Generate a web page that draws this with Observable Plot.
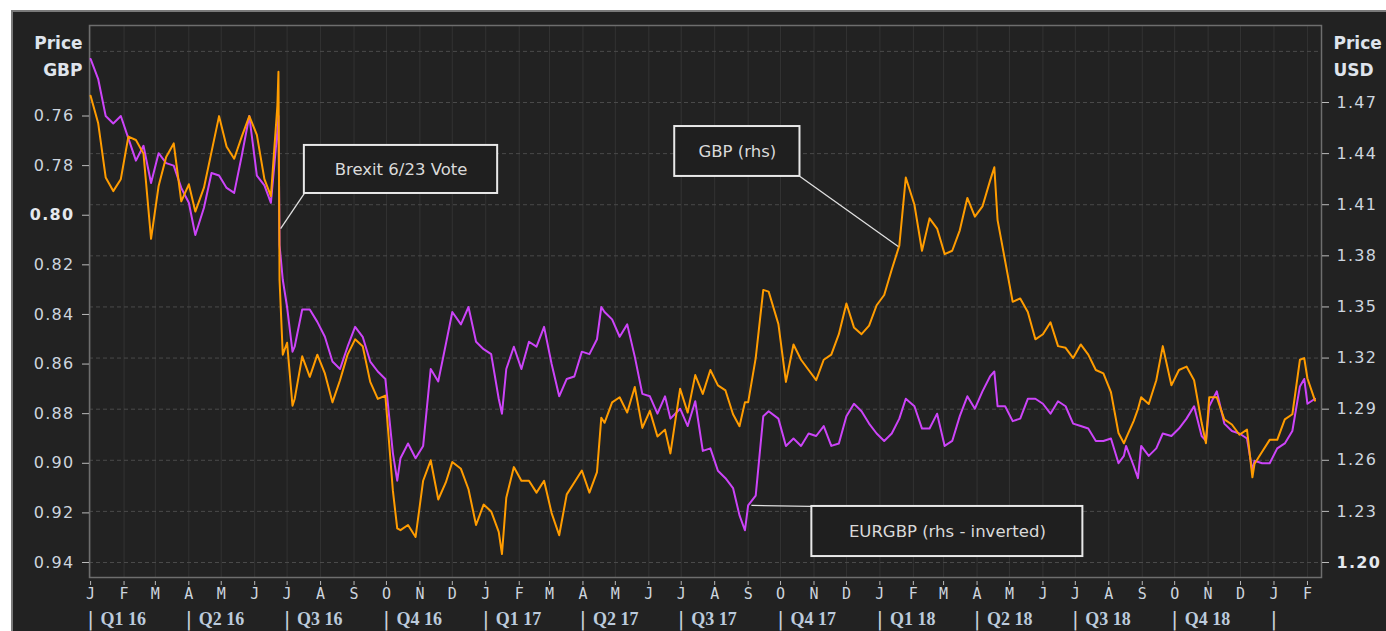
<!DOCTYPE html>
<html><head><meta charset="utf-8">
<script src="https://cdn.jsdelivr.net/npm/d3@7"></script>
<script src="https://cdn.jsdelivr.net/npm/@observablehq/plot@0.6"></script>
<style>
html,body{margin:0;padding:0;background:#fff;}
#wrap{position:relative;width:1386px;height:631px;overflow:hidden;}
#panel{position:absolute;left:11px;top:10px;width:1380px;height:630px;background:#222;border-left:2px solid #7a7a7a;border-top:2px solid #7a7a7a;}
#chart{position:absolute;left:0;top:0;}
g[aria-label="y-axis tick label"] text{letter-spacing:1.3px;}
</style></head><body>
<div id="wrap"><div id="panel"></div><div id="chart"></div></div>
<script>
// ---- data (weekly-ish readings) ----
const dates = [
"2016-01-01","2016-01-08","2016-01-15","2016-01-22","2016-01-29","2016-02-05","2016-02-12","2016-02-19","2016-02-26",
"2016-03-04","2016-03-11","2016-03-18","2016-03-25","2016-04-01","2016-04-07","2016-04-15","2016-04-22","2016-04-29",
"2016-05-06","2016-05-13","2016-05-20","2016-05-27","2016-06-03","2016-06-10","2016-06-16","2016-06-22","2016-06-23",
"2016-06-24","2016-06-27","2016-07-01","2016-07-06","2016-07-08","2016-07-15","2016-07-22","2016-07-29","2016-08-05",
"2016-08-12","2016-08-19","2016-08-26","2016-09-02","2016-09-09","2016-09-16","2016-09-23","2016-09-30","2016-10-07",
"2016-10-11","2016-10-14","2016-10-21","2016-10-28","2016-11-04","2016-11-11","2016-11-18","2016-11-25","2016-12-01",
"2016-12-09","2016-12-16","2016-12-23","2016-12-30","2017-01-06","2017-01-13","2017-01-16","2017-01-20","2017-01-27",
"2017-02-03","2017-02-10","2017-02-17","2017-02-24","2017-03-03","2017-03-10","2017-03-17","2017-03-24","2017-03-31",
"2017-04-07","2017-04-14","2017-04-18","2017-04-21","2017-04-28","2017-05-05","2017-05-12","2017-05-19","2017-05-26",
"2017-06-02","2017-06-09","2017-06-16","2017-06-21","2017-06-30","2017-07-07","2017-07-14","2017-07-21","2017-07-28",
"2017-08-04","2017-08-11","2017-08-18","2017-08-24","2017-08-29","2017-09-01","2017-09-08","2017-09-15","2017-09-20",
"2017-09-29","2017-10-06","2017-10-13","2017-10-20","2017-10-27","2017-11-03","2017-11-10","2017-11-17","2017-11-24",
"2017-12-01","2017-12-08","2017-12-15","2017-12-22","2017-12-29","2018-01-05","2018-01-12","2018-01-19","2018-01-25",
"2018-02-02","2018-02-09","2018-02-16","2018-02-23","2018-03-02","2018-03-09","2018-03-16","2018-03-23","2018-03-30",
"2018-04-06","2018-04-13","2018-04-17","2018-04-20","2018-04-27","2018-05-04","2018-05-11","2018-05-18","2018-05-25",
"2018-06-01","2018-06-08","2018-06-15","2018-06-22","2018-06-29","2018-07-06","2018-07-13","2018-07-20","2018-07-27",
"2018-08-03","2018-08-10","2018-08-15","2018-08-17","2018-08-24","2018-08-28","2018-08-31","2018-09-07","2018-09-14",
"2018-09-20","2018-09-28","2018-10-05","2018-10-12","2018-10-19","2018-10-26","2018-10-30","2018-11-02","2018-11-09",
"2018-11-16","2018-11-23","2018-11-30","2018-12-07","2018-12-12","2018-12-14","2018-12-21","2018-12-28","2019-01-04",
"2019-01-11","2019-01-18","2019-01-25","2019-01-29","2019-02-01","2019-02-08"];

const gbpusd = [
1.474,1.458,1.426,1.418,1.425,1.450,1.448,1.440,1.390,
1.421,1.438,1.446,1.412,1.422,1.406,1.420,1.441,1.462,
1.444,1.437,1.450,1.462,1.451,1.425,1.415,1.468,1.488,
1.366,1.322,1.329,1.292,1.296,1.321,1.309,1.322,1.311,
1.294,1.307,1.322,1.331,1.327,1.306,1.296,1.298,1.242,
1.220,1.219,1.222,1.215,1.248,1.260,1.237,1.247,1.259,
1.255,1.243,1.222,1.234,1.230,1.218,1.205,1.238,1.256,
1.248,1.248,1.241,1.248,1.229,1.216,1.240,1.247,1.254,
1.241,1.253,1.285,1.282,1.294,1.297,1.288,1.303,1.279,
1.289,1.274,1.278,1.264,1.302,1.288,1.310,1.299,1.313,
1.304,1.301,1.287,1.280,1.294,1.294,1.320,1.360,1.359,
1.340,1.306,1.328,1.319,1.313,1.307,1.319,1.322,1.334,
1.352,1.338,1.334,1.339,1.351,1.357,1.372,1.386,1.426,
1.410,1.383,1.402,1.396,1.381,1.383,1.395,1.414,1.403,
1.409,1.424,1.432,1.401,1.377,1.353,1.355,1.347,1.331,
1.334,1.341,1.327,1.326,1.320,1.328,1.322,1.313,1.311,
1.300,1.276,1.270,1.273,1.283,1.290,1.297,1.293,1.307,
1.327,1.304,1.313,1.315,1.307,1.282,1.270,1.297,1.297,
1.284,1.281,1.275,1.278,1.250,1.258,1.265,1.272,1.272,
1.284,1.287,1.319,1.320,1.308,1.295];

const eurgbp = [
0.737,0.745,0.760,0.763,0.760,0.769,0.778,0.772,0.787,
0.775,0.779,0.780,0.789,0.795,0.808,0.797,0.783,0.784,
0.789,0.791,0.776,0.760,0.784,0.788,0.795,0.766,0.760,
0.812,0.826,0.837,0.855,0.853,0.838,0.838,0.843,0.849,
0.859,0.862,0.853,0.845,0.849,0.859,0.863,0.866,0.896,
0.907,0.898,0.892,0.898,0.893,0.862,0.867,0.852,0.839,
0.844,0.837,0.851,0.854,0.856,0.874,0.880,0.862,0.853,
0.862,0.851,0.853,0.845,0.860,0.873,0.866,0.865,0.855,
0.856,0.850,0.837,0.839,0.842,0.849,0.844,0.857,0.872,
0.873,0.880,0.873,0.882,0.878,0.885,0.875,0.895,0.894,
0.903,0.906,0.910,0.921,0.927,0.917,0.913,0.881,0.879,
0.882,0.893,0.890,0.893,0.888,0.889,0.885,0.893,0.892,
0.881,0.876,0.879,0.884,0.888,0.891,0.888,0.882,0.874,
0.877,0.886,0.886,0.880,0.893,0.891,0.881,0.873,0.878,
0.871,0.865,0.863,0.877,0.877,0.883,0.882,0.874,0.874,
0.876,0.880,0.875,0.877,0.884,0.885,0.886,0.891,0.891,
0.890,0.900,0.897,0.893,0.901,0.906,0.893,0.897,0.894,
0.888,0.889,0.886,0.882,0.877,0.889,0.891,0.877,0.871,
0.884,0.887,0.888,0.890,0.903,0.899,0.900,0.900,0.894,
0.892,0.887,0.869,0.866,0.876,0.874];

const leftTicks = [0.76,0.78,0.80,0.82,0.84,0.86,0.88,0.90,0.92,0.94];
const rightTicks = [1.20,1.23,1.26,1.29,1.32,1.35,1.38,1.41,1.44,1.47];
const gridTicks = [1.20,1.23,1.26,1.29,1.32,1.35,1.38,1.41,1.44,1.47,1.50];
const leftBold = 0.80, rightBold = 1.20;
const monthLetters = ["J","F","M","A","M","J","J","A","S","O","N","D"];
const quarterLabels = ["Q1 16","Q2 16","Q3 16","Q4 16","Q1 17","Q2 17","Q3 17","Q4 17","Q1 18","Q2 18","Q3 18","Q4 18"];
const quarterStarts = ["2016-01-01","2016-04-01","2016-07-01","2016-10-01","2017-01-01","2017-04-01","2017-07-01","2017-10-01","2018-01-01","2018-04-01","2018-07-01","2018-10-01","2019-01-01"];

// annotations (box corners and pointer targets in data space)
const notes = [
  {label:"Brexit 6/23 Vote", x1:"2016-07-17", x2:"2017-01-12", y1:1.4166, y2:1.4448, ax:"2016-07-17", ay:1.4166, tx:"2016-06-25", ty:1.396},
  {label:"GBP (rhs)", x1:"2017-06-25", x2:"2017-10-19", y1:1.4266, y2:1.4559, ax:"2017-10-19", ay:1.4266, tx:"2018-01-18", ty:1.3855},
  {label:"EURGBP (rhs - inverted)", x1:"2017-10-30", x2:"2018-07-08", y1:1.2035, y2:1.2329, ax:"2017-10-30", ay:1.2329, tx:"2017-09-04", ty:1.2335}
];

// ---- mapping of left (inverted EURGBP) axis onto the right (GBPUSD) scale ----
const K = 1.456;
const toR = v => 1.20 + (0.94 - v) * K;
const fromR = u => 0.94 - (u - 1.20) / K;
const parse = d3.utcParse("%Y-%m-%d");

const rows = dates.map((d, i) => ({date: parse(d), gbp: gbpusd[i], eur: toR(eurgbp[i])}));
const noteRows = notes.map(n => ({...n, x1: parse(n.x1), x2: parse(n.x2), ax: parse(n.ax), tx: parse(n.tx),
  mx: new Date((parse(n.x1).getTime() + parse(n.x2).getTime()) / 2), my: (n.y1 + n.y2) / 2}));
const monthTicks = d3.utcMonth.range(parse("2016-01-01"), parse("2019-02-02"));
const quarters = quarterLabels.map((q, i) => ({date: parse(quarterStarts[i]), label: q}));
const seps = quarterStarts.map(parse);

const tickFont = "DejaVu Sans";
const labelColor = "#cdd5df";

const chart = Plot.plot({
  width: 1386,
  height: 631,
  marginLeft: 89,
  marginRight: 65,
  marginTop: 25,
  marginBottom: 54,
  style: {background: "transparent", color: labelColor, fontFamily: tickFont},
  x: {type: "utc", domain: [parse("2015-12-31"), parse("2019-02-14")]},
  y: {domain: [1.1912, 1.5152], label: null},
  marks: [
    Plot.gridX(monthTicks, {stroke: "#333", strokeOpacity: 1, strokeWidth: 1}),
    Plot.gridY(gridTicks, {stroke: "#4a4a4a", strokeOpacity: 1, strokeDasharray: "4,3"}),
    Plot.frame({stroke: "#6e6e6e", strokeWidth: 1.5}),
    Plot.line(rows, {x: "date", y: "eur", stroke: "#cc44f8", strokeWidth: 2}),
    Plot.line(rows, {x: "date", y: "gbp", stroke: "#ff9c00", strokeWidth: 2}),
    // right axis
    Plot.axisY(rightTicks.filter(t => t !== rightBold), {anchor: "right", label: null, tickSize: 7, tickPadding: 8,
      tickFormat: d => d.toFixed(2), fontSize: 16, fill: labelColor, stroke: "#bbb"}),
    Plot.axisY([rightBold], {anchor: "right", label: null, tickSize: 7, tickPadding: 8,
      tickFormat: d => d.toFixed(2), fontSize: 16, fontWeight: "bold", fill: "#e4e8ee", stroke: "#bbb"}),
    // left axis (EURGBP inverted)
    Plot.axisY(leftTicks.filter(t => t !== leftBold).map(toR), {anchor: "left", label: null, tickSize: 7, tickPadding: 8,
      tickFormat: d => fromR(d).toFixed(2), fontSize: 16, fill: labelColor, stroke: "#bbb"}),
    Plot.axisY([toR(leftBold)], {anchor: "left", label: null, tickSize: 7, tickPadding: 8,
      tickFormat: d => fromR(d).toFixed(2), fontSize: 16, fontWeight: "bold", fill: "#e4e8ee", stroke: "#bbb"}),
    // x axis months
    Plot.axisX(monthTicks, {anchor: "bottom", label: null, tickSize: 4, tickPadding: 3, dy: 4,
      tickFormat: d => monthLetters[d.getUTCMonth()], fontSize: 15, fontFamily: "DejaVu Sans Mono",
      fill: labelColor, stroke: "#bbb"}),
    // quarter row
    Plot.text(seps, {x: d => d, text: () => "|", frameAnchor: "bottom", dy: 42, lineAnchor: "middle",
      fontSize: 20, fill: "#c8d0da"}),
    Plot.text(quarters, {x: "date", text: "label", frameAnchor: "bottom", dy: 42, dx: 10, textAnchor: "start",
      lineAnchor: "middle", fontSize: 18, fontWeight: "bold", fontFamily: "Liberation Serif", fill: "#bccbdc"}),
    // axis titles
    Plot.text(["Price\nGBP"], {frameAnchor: "top-left", dx: -7, dy: 4, textAnchor: "end", lineAnchor: "top",
      lineHeight: 1.6, fontSize: 17, fontWeight: "bold", fill: "#dfe4ec"}),
    Plot.text(["Price\nUSD"], {frameAnchor: "top-right", dx: 12, dy: 4, textAnchor: "start", lineAnchor: "top",
      lineHeight: 1.6, fontSize: 17, fontWeight: "bold", fill: "#dfe4ec"}),
    // annotations
    Plot.link(noteRows, {x1: "ax", y1: "ay", x2: "tx", y2: "ty", stroke: "#e0e0e0", strokeWidth: 1.3}),
    Plot.rect(noteRows, {x1: "x1", x2: "x2", y1: "y1", y2: "y2", fill: "#1f1f1f", stroke: "#e8e8e8", strokeWidth: 2}),
    Plot.text(noteRows, {x: "mx", y: "my", text: "label", fontSize: 16.5, fill: "#dadada"})
  ]
});
document.getElementById("chart").appendChild(chart);
</script>
</body></html>
